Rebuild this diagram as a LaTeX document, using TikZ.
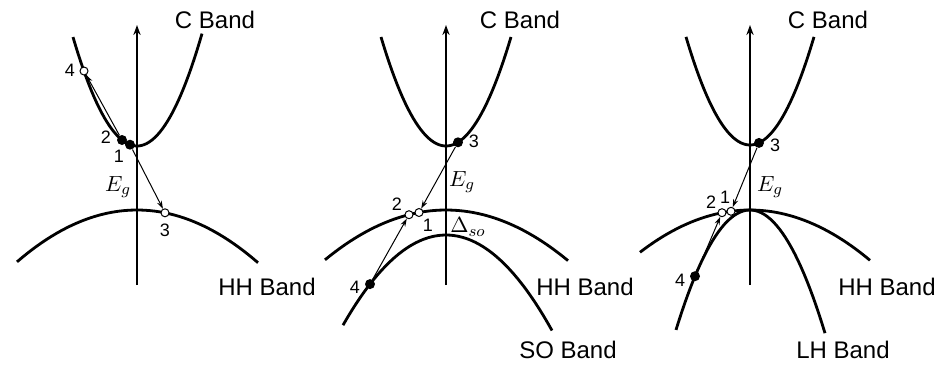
\documentclass[tikz,border=0pt]{standalone}
\usepackage{fontspec}
\setsansfont{Liberation Sans}
\usetikzlibrary{arrows.meta}

\begin{document}
\begin{tikzpicture}[
        x=0.5pt,y=-0.5pt,
        band/.style={line width=1.4pt},
        axis/.style={line width=1.2pt,-{Stealth[length=5pt,width=3.6pt]}},
        trans/.style={line width=0.5pt,-{Stealth[length=4pt,width=2.6pt]}},
        elec/.style={circle,fill=black,inner sep=0pt,minimum size=5pt},
        hole/.style={circle,draw=black,fill=white,line width=0.5pt,
                     inner sep=0pt,minimum size=4pt},
        lbl/.style={font=\sffamily\fontsize{12}{14}\selectfont},
        num/.style={font=\sffamily\fontsize{9}{11}\selectfont,inner sep=1pt},
        eg/.style={font=\fontsize{11}{13}\selectfont}]
        \useasboundingbox (0,0) rectangle (938,365);
        % left: CHCC
        \draw[band] plot[domain=73:202,samples=50]
          (\x,{146-0.0266*(\x-137)*(\x-137)});
        \draw[band] plot[domain=17:258,samples=50]
          (\x,{210+0.0036*(\x-137)*(\x-137)});
        \draw[axis] (137,285) -- (137,25);
        \node[hole] (a4) at (84,71) {};
        \node[elec] (a2) at (122,140) {};
        \node[elec] (a1) at (130,144.7) {};
        \node[hole] (a3) at (165,212.8) {};
        \draw[trans] (a2)--(a4);
        \draw[trans] (a1)--(a3);
        \node[num] at (70,70) {4};
        \node[num] at (106,137) {2};
        \node[num] at (119,156) {1};
        \node[num] at (165,230) {3};
        \node[eg] at (118,187) {$E_g$};
        \node[lbl] at (215,20) {C Band};
        \node[lbl] at (267,287) {HH Band};
        % middle: CHSH
        \draw[band] plot[domain=381:511,samples=50]
          (\x,{146-0.0258*(\x-446)*(\x-446)});
        \draw[band] plot[domain=325:568,samples=50]
          (\x,{210+0.0034*(\x-446)*(\x-446)});
        \draw[band] plot[domain=343:552,samples=50]
          (\x,{235+0.0085*(\x-446)*(\x-446)});
        \draw[axis] (446,285) -- (446,25);
        \node[elec] (b3) at (458,142.3) {};
        \node[hole] (b1) at (419,212.5) {};
        \node[hole] (b2) at (409,214.7) {};
        \node[elec] (b4) at (370,284.1) {};
        \draw[trans] (b3)--(b1);
        \draw[trans] (b4)--(b2);
        \node[num] at (474,141) {3};
        \node[num] at (397,204) {2};
        \node[num] at (428,225) {1};
        \node[num] at (355,287) {4};
        \node[eg] at (462,182) {$E_g$};
        \node[eg] at (468,227) {$\Delta_{so}$};
        \node[lbl] at (520,20) {C Band};
        \node[lbl] at (585,287) {HH Band};
        \node[lbl] at (568,350) {SO Band};
        % right: CHLH
        \draw[band] plot[domain=686:814,samples=50]
          (\x,{145-0.0264*(\x-750)*(\x-750)});
        \draw[band] plot[domain=640:870,samples=50]
          (\x,{210+0.0035*(\x-750)*(\x-750)});
        \draw[band] plot[domain=676:825,samples=50]
          (\x,{210+0.0219*(\x-750)*(\x-750)});
        \draw[axis] (750,285) -- (750,25);
        \node[elec] (c3) at (759,142.9) {};
        \node[hole] (c1) at (731,211.3) {};
        \node[hole] (c2) at (722,212.7) {};
        \node[elec] (c4) at (695,276.2) {};
        \draw[trans] (c3)--(c1);
        \draw[trans] (c4)--(c2);
        \node[num] at (775,145) {3};
        \node[num] at (711,202) {2};
        \node[num] at (725,197) {1};
        \node[num] at (680,280) {4};
        \node[eg] at (770,187) {$E_g$};
        \node[lbl] at (828,20) {C Band};
        \node[lbl] at (887,287) {HH Band};
        \node[lbl] at (843,350) {LH Band};
      \end{tikzpicture}
\end{document}
